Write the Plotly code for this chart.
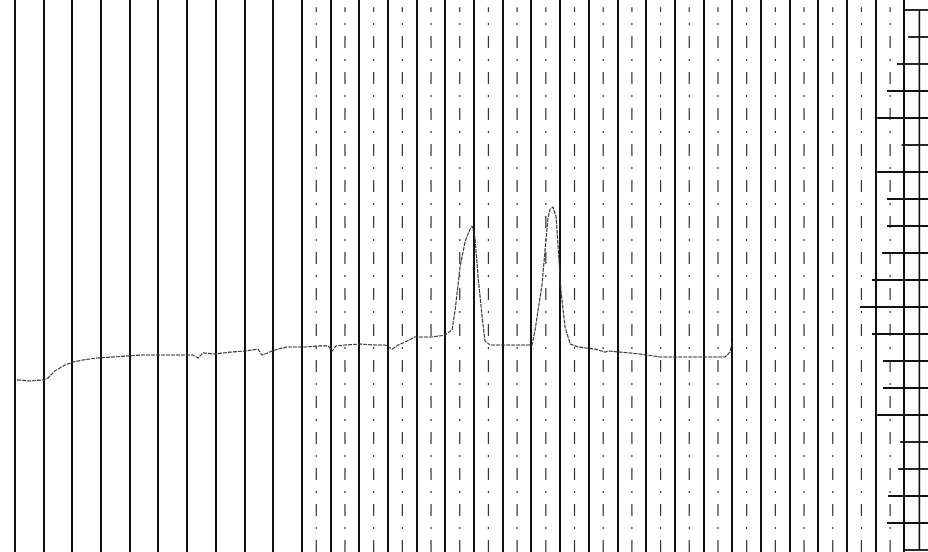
import plotly.graph_objects as go

# Chart-recorder trace (x in chart divisions, y in scale divisions)
trace_x = [0.07, 0.52, 0.98, 1.15, 1.39, 1.74, 2.02, 2.37, 2.86, 3.36, 3.87, 4.40, 4.95, 5.40, 6.20,
           6.38, 6.55, 6.97, 7.50, 8.02, 8.47, 8.61, 9.06, 9.48, 10.11, 10.63, 10.91, 11.05, 11.19,
           11.50, 12.02, 12.55, 12.90, 13.14, 13.35, 13.59, 13.94, 14.53, 14.99, 15.23, 15.34,
           15.51, 15.69, 15.86, 15.93, 16.03, 16.14, 16.28, 16.38, 16.56, 17.25, 18.02, 18.12,
           18.23, 18.37, 18.47, 18.58, 18.65, 18.75, 18.86, 18.93, 19.03, 19.17, 19.35, 19.63,
           20.22, 20.57, 20.67, 21.09, 21.78, 22.48, 23.87, 24.50, 24.75, 24.92, 24.99]
trace_y = [6.30, 6.26, 6.30, 6.37, 6.63, 6.85, 6.96, 7.04, 7.11, 7.15, 7.19, 7.22, 7.22, 7.22, 7.22,
           7.11, 7.30, 7.26, 7.33, 7.37, 7.44, 7.22, 7.41, 7.52, 7.52, 7.56, 7.56, 7.37, 7.56,
           7.59, 7.63, 7.59, 7.59, 7.44, 7.59, 7.70, 7.89, 7.89, 7.96, 8.15, 8.89,
           10.48, 11.44, 11.89, 12.00, 11.59, 10.11, 8.63, 7.74, 7.59, 7.59, 7.59, 8.11,
           8.85, 9.85, 11.07, 12.33, 12.63, 12.70, 12.33, 11.07, 9.59, 8.26, 7.63, 7.52,
           7.44, 7.33, 7.37, 7.33, 7.26, 7.15, 7.15, 7.15, 7.15, 7.33, 7.67]

# Dashed intermediate chart lines (half divisions)
half_lines = [10.5, 11.5, 12.5, 13.5, 14.5, 15.5, 16.5, 17.5, 18.5, 19.5, 20.5,
              21.5, 22.5, 23.5, 24.5, 25.5, 26.5, 27.5, 28.5, 29.5, 30.5]

# Scale box at the right edge
scale_levels = list(range(20, -1, -1))
scale_starts = [30.99, 31.13, 30.74, 30.39, 30.05, 30.90, 30.05, 30.39, 30.39, 30.22,
                29.87, 29.45, 29.87, 30.25, 30.25, 30.05, 30.85, 30.78, 30.43, 30.39, 30.99]
scale_edge = 31.52

X0, X1 = -0.523, 31.82
Y0, Y1 = -0.074, 20.37

fig = go.Figure()

# dashed half lines
hx, hy = [], []
for h in half_lines:
    hx += [h, h, None]
    hy += [Y0, 20.1, None]
fig.add_trace(go.Scatter(x=hx, y=hy, mode="lines",
                         line=dict(color="#333", width=1.2, dash="12px,11px,2px,11px"),
                         hoverinfo="skip", showlegend=False))

# scale box horizontal lines
sx, sy = [], []
for lvl, st in zip(scale_levels, scale_starts):
    sx += [st, X1, None]
    sy += [lvl, lvl, None]
fig.add_trace(go.Scatter(x=sx, y=sy, mode="lines",
                         line=dict(color="#111", width=1.8),
                         hoverinfo="skip", showlegend=False))
fig.add_trace(go.Scatter(x=[scale_edge, scale_edge], y=[0, 20], mode="lines",
                         line=dict(color="#111", width=1.6),
                         hoverinfo="skip", showlegend=False))

# recorder trace
fig.add_trace(go.Scatter(x=trace_x, y=trace_y, mode="lines",
                         line=dict(color="#333", width=1.1, dash="4px,1px"),
                         hoverinfo="skip", showlegend=False))

fig.update_layout(
    width=928, height=552,
    margin=dict(l=0, r=0, t=0, b=0),
    paper_bgcolor="white", plot_bgcolor="white",
    showlegend=False,
    xaxis=dict(range=[X0, X1], dtick=1, tick0=0, showgrid=True, gridcolor="#111",
               gridwidth=2.2, zeroline=False, showticklabels=False, ticks="",
               showline=False, fixedrange=True),
    yaxis=dict(range=[Y0, Y1], showgrid=False, zeroline=False, showticklabels=False,
               ticks="", showline=False, fixedrange=True),
)

fig.write_html("out.html")
